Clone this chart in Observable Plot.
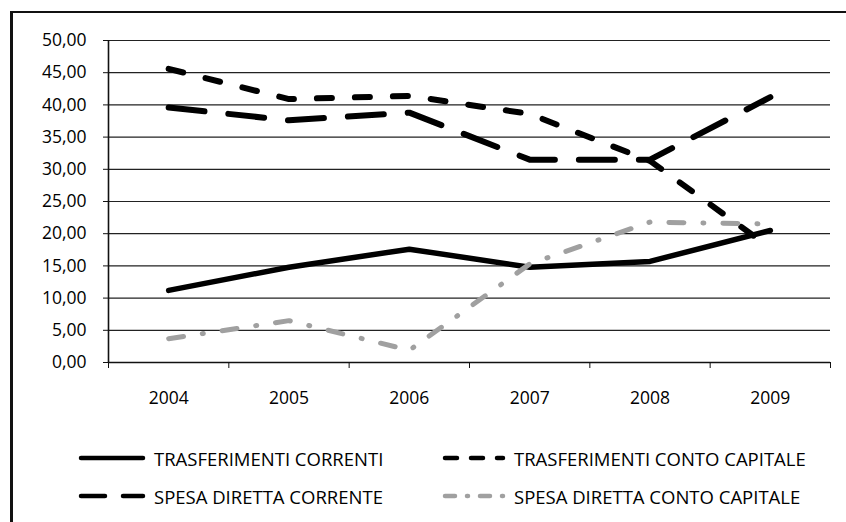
<!DOCTYPE html>
<html>
<head>
<meta charset="utf-8">
<script src="https://cdn.jsdelivr.net/npm/d3@7"></script>
<script src="https://cdn.jsdelivr.net/npm/@observablehq/plot@0.6"></script>
<style>
  html, body { margin: 0; padding: 0; background: #fff; }
  #wrap { position: relative; width: 846px; height: 522px; overflow: hidden; background: #fff;
          font-family: "Open Sans", "Noto Sans", sans-serif; color: #000; }
  #chart { position: absolute; left: 0; top: 0; }
  #border { position: absolute; left: 10px; top: 11px; right: 0; bottom: -5px;
            border-left: 3px solid #111; border-top: 2px solid #111; pointer-events: none; }
  .leg { position: absolute; display: flex; align-items: center; font-size: 18.5px; white-space: nowrap; }
  .leg svg { display: block; margin-right: 8px; }
</style>
</head>
<body>
<div id="wrap">
  <div id="chart"></div>
  <div id="border"></div>
  <div id="legend"></div>
</div>
<script>
// ---- data ----
const years = ["2004", "2005", "2006", "2007", "2008", "2009"];
const seriesNames = [
  "TRASFERIMENTI CORRENTI",
  "TRASFERIMENTI CONTO CAPITALE",
  "SPESA DIRETTA CORRENTE",
  "SPESA DIRETTA CONTO CAPITALE"
];
const trasferimentiCorrenti      = [11.2, 14.8, 17.6, 14.8, 15.7, 20.5];
const trasferimentiContoCapitale = [45.6, 40.9, 41.4, 38.6, 31.3, 17.8];
const spesaDirettaCorrente       = [39.6, 37.6, 38.8, 31.5, 31.5, 41.2];
const spesaDirettaContoCapitale  = [3.7, 6.5, 1.9, 15.3, 21.8, 21.5];
const yTicks = [0, 5, 10, 15, 20, 25, 30, 35, 40, 45, 50];

// ---- styles ----
const styles = [
  {stroke: "#000", strokeWidth: 5.5, strokeDasharray: null, strokeLinecap: "round"},
  {stroke: "#000", strokeWidth: 6, strokeDasharray: "15,23", strokeLinecap: "round"},
  {stroke: "#000", strokeWidth: 6, strokeDasharray: "36,24", strokeLinecap: "round"},
  {stroke: "#a0a0a0", strokeWidth: 5, strokeDasharray: "15,19,1,19", strokeLinecap: "round"}
];
const legendDash = [null, "12,14", "24,18", "10,12,1,12"];
const allSeries = [trasferimentiCorrenti, trasferimentiContoCapitale, spesaDirettaCorrente, spesaDirettaContoCapitale];

const rowsFor = (vals) => vals.map((v, i) => ({i, year: years[i], value: v}));
const idx = years.map((_, i) => i);
const bounds = [...idx.map(i => i - 0.5), years.length - 0.5];
const fmt = d => d.toFixed(2).replace(".", ",");

const chart = Plot.plot({
  width: 846,
  height: 420,
  marginLeft: 108,
  marginRight: 16,
  marginTop: 40,
  marginBottom: 58,
  style: {fontFamily: '"Open Sans", "Noto Sans", sans-serif', fontSize: "17.5px", color: "#000", background: "transparent"},
  x: {type: "linear", domain: [-0.5, years.length - 0.5]},
  y: {domain: [0, 50]},
  marks: [
    Plot.ruleY(yTicks, {stroke: "#222", strokeWidth: 1.2}),
    Plot.ruleX([-0.5], {y1: 0, y2: 50, stroke: "#111", strokeWidth: 1.6}),
    Plot.ruleY([0], {stroke: "#111", strokeWidth: 1.6}),
    Plot.axisY({ticks: yTicks, tickFormat: fmt, tickSize: 5, tickPadding: 17, fontSize: 17.5, stroke: "#111", label: null}),
    Plot.axisX({ticks: bounds, tickFormat: () => "", tickSize: 6, stroke: "#111", label: null}),
    Plot.axisX({ticks: idx, tickFormat: i => years[i], tickSize: 0, tickPadding: 29, fontSize: 17.5, label: null}),
    ...allSeries.map((vals, k) => Plot.lineY(rowsFor(vals), {x: "i", y: "value", ...styles[k]}))
  ]
});
document.getElementById("chart").appendChild(chart);

// ---- legend ----
const legPos = [
  {left: 78, top: 458, sw: 68},
  {left: 442, top: 458, sw: 64},
  {left: 78, top: 496, sw: 68},
  {left: 442, top: 496, sw: 64}
];
const legend = document.getElementById("legend");
seriesNames.forEach((name, k) => {
  const p = legPos[k], s = styles[k];
  const item = document.createElement("div");
  item.className = "leg";
  item.style.left = p.left + "px";
  item.style.top = (p.top - 12) + "px";
  item.style.height = "24px";
  const ns = "http://www.w3.org/2000/svg";
  const svg = document.createElementNS(ns, "svg");
  svg.setAttribute("width", p.sw);
  svg.setAttribute("height", 10);
  const ln = document.createElementNS(ns, "line");
  ln.setAttribute("x1", 3); ln.setAttribute("x2", p.sw - 3);
  ln.setAttribute("y1", 5); ln.setAttribute("y2", 5);
  ln.setAttribute("stroke", s.stroke);
  ln.setAttribute("stroke-width", Math.min(s.strokeWidth, 4.5));
  ln.setAttribute("stroke-linecap", "round");
  if (legendDash[k]) ln.setAttribute("stroke-dasharray", legendDash[k]);
  svg.appendChild(ln);
  const t = document.createElement("span");
  t.textContent = name;
  item.appendChild(svg);
  item.appendChild(t);
  legend.appendChild(item);
});
</script>
</body>
</html>
